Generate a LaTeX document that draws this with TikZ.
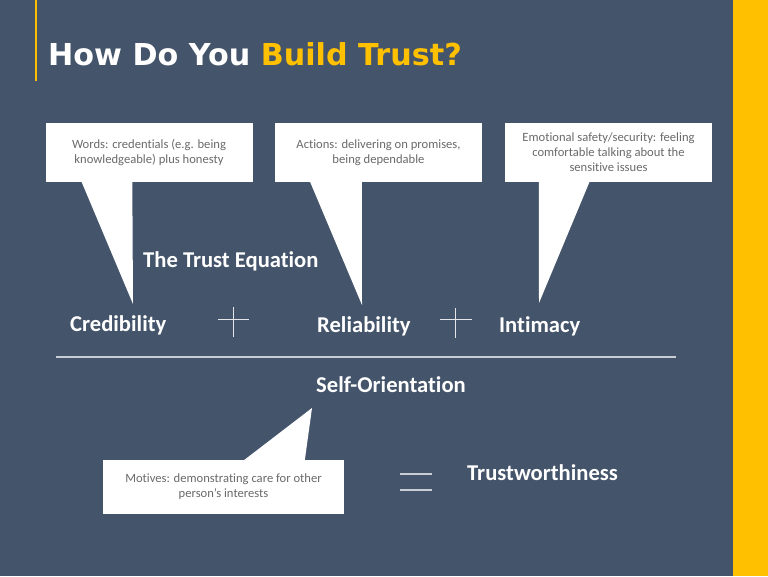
\documentclass[tikz,border=0pt]{standalone}
\usepackage{fontspec}
\setmainfont{Carlito}[Ligatures=NoCommon]
\newfontfamily\headfont{DejaVu Sans}
\usepackage{tikz}
\usetikzlibrary{positioning}
\definecolor{slate}{HTML}{44546A}
\definecolor{gold}{HTML}{FFC000}
\definecolor{notegray}{HTML}{6A6A6A}
\definecolor{rulegray}{HTML}{C9CED6}
\tikzset{x=1pt, y=-1pt, font=\fontsize{12.6}{15}\selectfont}
\tikzstyle{callout} = [fill=white, rectangle, minimum height=59pt, minimum width=207pt, inner sep=0pt, text centered, align=center, text=notegray]
\tikzstyle{tail} = [fill=white]
\tikzstyle{term} = [anchor=base west, inner sep=0pt, text=white, font=\fontsize{22.6}{22}\selectfont\bfseries]
\tikzstyle{sign} = [draw=white!85!slate, line width=0.9pt]
\tikzstyle{rule} = [draw=rulegray, line width=1.5pt]

\begin{document}
\begin{tikzpicture}
			% background and frame
			\fill[slate] (0,0) rectangle (768,576);
			\useasboundingbox (0,0) rectangle (768,576);
			\fill[gold] (733,0) rectangle (768,576);
			\draw[gold, line width=2pt] (36,0) -- (36,81);

			\node [anchor=base west, inner sep=0pt, font=\headfont\bfseries\fontsize{30.2}{30}\selectfont] (title) at (48,65)
				{\textcolor{white}{How Do You} \textcolor{gold}{Build Trust?}};

			% callouts
			\node [callout] (words) at (149,152.5) {Words: credentials (e.g. being\\knowledgeable) plus honesty};
			\node [callout] (actions) at (378.5,152.5) {Actions: delivering on promises,\\being dependable};
			\node [callout] (safety) at (608.5,152.5) {Emotional safety/security: feeling\\comfortable talking about the\\sensitive issues};
			\node [callout, minimum width=241pt, minimum height=54pt] (motives) at (223.5,486.5) {Motives: demonstrating care for other\\person's interests};

			\coordinate (words_tip) at (133,304);
			\coordinate (actions_tip) at (362,305);
			\coordinate (safety_tip) at (539,303);
			\coordinate (motives_tip) at (312,408);

			\fill [tail] ([xshift=36pt, yshift=1pt]words.south west) -- (words_tip) -- ([xshift=87pt, yshift=1pt]words.south west) -- cycle;
			\fill [tail] ([xshift=35pt, yshift=1pt]actions.south west) -- (actions_tip) -- ([xshift=87pt, yshift=1pt]actions.south west) -- cycle;
			\fill [tail] ([xshift=34pt, yshift=1pt]safety.south west) -- (safety_tip) -- ([xshift=85pt, yshift=1pt]safety.south west) -- cycle;
			\fill [tail] ([xshift=141pt, yshift=-1pt]motives.north west) -- (motives_tip) -- ([xshift=202pt, yshift=-1pt]motives.north west) -- cycle;

			% the equation
			\node [term] (equation) at (143,267) {The Trust Equation};
			\node [term] (credibility) at (70,331) {Credibility};
			\node [term] (reliability) at (317,332) {Reliability};
			\node [term] (intimacy) at (499,332) {Intimacy};
			\node [term] (selforient) at (316,392) {Self-Orientation};
			\node [term] (trustworthy) at (467,480) {Trustworthiness};

			\coordinate (plus_a) at (233,319);
			\coordinate (plus_b) at (455,319);
			\draw [sign] ([xshift=-15pt]plus_a) -- ([xshift=16pt]plus_a);
			\draw [sign] ([yshift=12pt]plus_a) -- ([yshift=-18pt]plus_a);
			\draw [sign] ([xshift=-15pt]plus_b) -- ([xshift=17pt]plus_b);
			\draw [sign] ([yshift=11pt]plus_b) -- ([yshift=-19pt]plus_b);

			\coordinate (bar_l) at (56,357);
			\coordinate (bar_r) at (676,357);
			\draw [rule] (bar_l) -- (bar_r);

			\coordinate (eq_a) at (400,474);
			\coordinate (eq_b) at (400,490);
			\draw [rule, line width=1.2pt] (eq_a) -- ([xshift=32pt]eq_a);
			\draw [rule, line width=1.2pt] (eq_b) -- ([xshift=32pt]eq_b);
		\end{tikzpicture}
\end{document}
